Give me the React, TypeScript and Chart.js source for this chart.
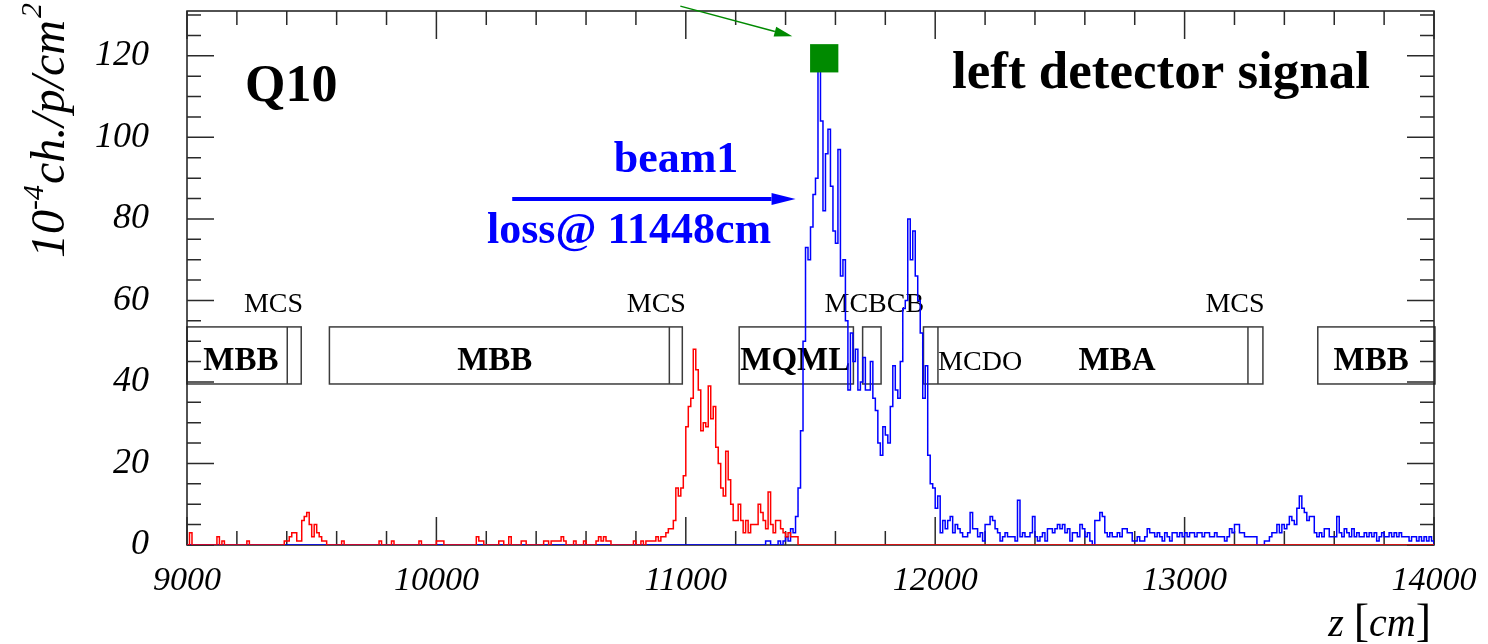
import React, { useEffect, useRef } from 'react';
import { Chart, registerables } from 'chart.js';

Chart.register(...registerables);

// ---------------- data ----------------
const X_MIN = 9000;
const X_MAX = 14000;
const Y_MIN = 0;
const Y_MAX = 131;
const BIN_CM = 10;

const xTickLabels = [9000, 10000, 11000, 12000, 13000, 14000];
const yTickLabels = [0, 20, 40, 60, 80, 100, 120];

const lossPositionCm = 11448;

// red histogram (upstream), 10 cm bins starting at 9000 cm
const redStartCm = 9000;
const redValues = [
  0, 3, 0, 0, 0, 0, 0, 0, 0, 0,
  0, 0, 2, 0, 1, 0, 0, 0, 0, 0,
  0, 0, 0, 0, 1, 0, 0, 0, 0, 0,
  0, 0, 0, 0, 0, 0, 0, 0, 0, 1,
  1, 2, 3, 3, 1, 1, 6, 7, 8, 5,
  2, 5, 3, 2, 1, 1, 0, 0, 0, 0,
  0, 0, 1, 0, 0, 0, 0, 0, 0, 0,
  0, 0, 0, 0, 0, 0, 0, 1, 0, 0,
  0, 0, 1, 0, 0, 0, 0, 0, 0, 0,
  0, 0, 0, 1, 0, 0, 0, 0, 0, 0,
  1, 1, 1, 0, 0, 0, 0, 0, 0, 0,
  0, 0, 0, 0, 0, 0, 2, 1, 1, 0,
  0, 0, 0, 0, 0, 1, 1, 0, 0, 2,
  0, 0, 0, 0, 1, 1, 0, 0, 0, 0,
  0, 0, 0, 1, 1, 0, 1, 1, 1, 1,
  2, 1, 0, 0, 0, 1, 0, 0, 0, 1,
  0, 0, 0, 0, 1, 2, 1, 2, 1, 1,
  0, 0, 0, 0, 0, 0, 0, 0, 0, 1,
  0, 0, 1, 0, 1, 1, 1, 1, 2, 1,
  2, 2, 3, 4, 4, 6, 14, 12, 14, 17,
  29, 34, 36, 48, 43, 38, 28, 30, 29, 39,
  31, 34, 24, 20, 14, 12, 23, 16, 10, 6,
  6, 10, 6, 3, 6, 3, 5, 5, 5, 10,
  8, 6, 4, 13, 5, 3, 6, 6, 4, 3,
  2, 3, 2, 2, 2,
];

// blue histogram (loss signal), 10 cm bins starting at 11320 cm
const blueStartCm = 11320;
const blueValues = [
  1, 1, 0, 0, 0, 1, 0, 1,
  2, 1, 4, 3, 7, 14, 28, 50, 73, 70,
  78, 86, 90, 117, 104, 82, 96, 102, 88, 77,
  74, 97, 66, 70, 55, 38, 52, 45, 48, 38,
  40, 46, 38, 38, 45, 36, 33, 25, 22, 29,
  27, 25, 34, 44, 38, 36, 45, 58, 60, 80,
  70, 77, 66, 60, 52, 36, 44, 22, 15, 14,
  9, 12, 3, 6, 4, 6, 7, 3, 5, 4,
  3, 2, 2, 3, 8, 4, 4, 2, 3, 1,
  5, 5, 7, 6, 4, 3, 1, 2, 3, 2,
  2, 2, 1, 11, 2, 3, 2, 2, 3, 7,
  2, 1, 2, 3, 1, 4, 4, 3, 4, 5,
  4, 5, 3, 4, 1, 3, 3, 2, 5, 4,
  2, 3, 1, 0, 6, 6, 8, 7, 3, 2,
  3, 2, 2, 3, 2, 4, 4, 3, 3, 1,
  1, 2, 1, 1, 2, 4, 3, 3, 2, 3,
  2, 1, 3, 2, 1, 3, 3, 2, 3, 2,
  3, 2, 3, 3, 2, 3, 3, 2, 3, 3,
  2, 2, 3, 2, 2, 2, 1, 2, 4, 3,
  5, 5, 3, 3, 2, 2, 2, 2, 2, 0,
  0, 0, 1, 1, 2, 3, 3, 5, 3, 5,
  4, 5, 7, 6, 5, 9, 12, 9, 8, 6,
  7, 7, 3, 2, 3, 2, 4, 4, 2, 2,
  2, 7, 3, 2, 4, 3, 2, 4, 2, 3,
  2, 2, 3, 2, 3, 2, 3, 1, 2, 3,
  2, 2, 3, 2, 3, 2, 3, 2, 2, 2,
  1, 2, 2, 1, 2, 1, 2, 1, 2, 1,
];

// green marker (maximum of the loss signal)
const markerX = [11555];
const markerY = [119.4];

// magnet layout (cm) drawn as boxes between two heights
const magnetBoxStart = [9000, 9571, 11214, 11709, 11953, 13534];
const magnetBoxEnd = [9458, 10986, 11672, 11783, 13314, 14004];
const magnetDividers = [9402, 10934, 12011, 13254];
const magnetBoxLow = 39.5;
const magnetBoxHigh = 53.5;

const boldMagnetNames = ['MBB', 'MBB', 'MQML', 'MBA', 'MBB'];
const boldMagnetPos = [9216, 10234, 11439, 12729, 13748];
const boldMagnetY = 43.0;

const plainInBoxNames = ['MCDO'];
const plainInBoxPos = [12180];

const correctorNames = ['MCS', 'MCS', 'MCBCB', 'MCS'];
const correctorPos = [9347, 10882, 11756, 13202];
const correctorY = 57.1;

// arrows (data coordinates)
const beamArrowFrom = [10304, 84.9];
const beamArrowTo = [11440, 84.9];
const markerArrowFrom = [10978, 132.2];
const markerArrowTo = [11427, 124.8];

// ---------------- helpers ----------------
const SERIF = '"Liberation Serif", "Times New Roman", Times, serif';

type Pt = { x: number; y: number };

function histogramPoints(start: number, values: number[]): Pt[] {
  const pts: Pt[] = [];
  if (start > X_MIN) pts.push({ x: X_MIN, y: 0 });
  values.forEach((v, i) => pts.push({ x: start + i * BIN_CM, y: v }));
  const end = start + values.length * BIN_CM;
  pts.push({ x: end, y: 0 });
  if (end < X_MAX) pts.push({ x: X_MAX, y: 0 });
  return pts;
}

function drawText(
  ctx: CanvasRenderingContext2D,
  str: string,
  x: number,
  y: number,
  font: string,
  color: string,
  align: CanvasTextAlign = 'left',
  sx = 1
) {
  ctx.save();
  ctx.font = font;
  ctx.fillStyle = color;
  ctx.textAlign = align;
  ctx.textBaseline = 'alphabetic';
  ctx.translate(x, y);
  ctx.scale(sx, 1);
  ctx.fillText(str, 0, 0);
  ctx.restore();
}

function drawArrow(
  ctx: CanvasRenderingContext2D,
  x1: number,
  y1: number,
  x2: number,
  y2: number,
  color: string,
  lw: number,
  headLen: number,
  headHalf: number
) {
  const ang = Math.atan2(y2 - y1, x2 - x1);
  const bx = x2 - headLen * Math.cos(ang);
  const by = y2 - headLen * Math.sin(ang);
  ctx.save();
  ctx.strokeStyle = color;
  ctx.fillStyle = color;
  ctx.lineWidth = lw;
  ctx.beginPath();
  ctx.moveTo(x1, y1);
  ctx.lineTo(bx, by);
  ctx.stroke();
  ctx.beginPath();
  ctx.moveTo(x2, y2);
  ctx.lineTo(bx + headHalf * Math.sin(ang), by - headHalf * Math.cos(ang));
  ctx.lineTo(bx - headHalf * Math.sin(ang), by + headHalf * Math.cos(ang));
  ctx.closePath();
  ctx.fill();
  ctx.restore();
}

const overlayPlugin = {
  id: 'rootOverlay',
  beforeDatasetsDraw(chart: any) {
    const ctx: CanvasRenderingContext2D = chart.ctx;
    const xs = chart.scales.x;
    const ys = chart.scales.y;
    const { left, right, top, bottom } = chart.chartArea;

    // magnet boxes
    ctx.save();
    ctx.strokeStyle = '#3c3c3c';
    ctx.lineWidth = 1.5;
    const yT = ys.getPixelForValue(magnetBoxHigh);
    const yB = ys.getPixelForValue(magnetBoxLow);
    magnetBoxStart.forEach((s, i) => {
      const x1 = xs.getPixelForValue(s);
      const x2 = xs.getPixelForValue(magnetBoxEnd[i]);
      ctx.strokeRect(x1, yT, x2 - x1, yB - yT);
    });
    magnetDividers.forEach((d) => {
      const x = xs.getPixelForValue(d);
      ctx.beginPath();
      ctx.moveTo(x, yT);
      ctx.lineTo(x, yB);
      ctx.stroke();
    });
    ctx.restore();

    boldMagnetNames.forEach((n, i) =>
      drawText(ctx, n, xs.getPixelForValue(boldMagnetPos[i]), ys.getPixelForValue(boldMagnetY), `bold 33px ${SERIF}`, '#000', 'center')
    );
    plainInBoxNames.forEach((n, i) =>
      drawText(ctx, n, xs.getPixelForValue(plainInBoxPos[i]), ys.getPixelForValue(boldMagnetY), `28px ${SERIF}`, '#000', 'center')
    );
    correctorNames.forEach((n, i) =>
      drawText(ctx, n, xs.getPixelForValue(correctorPos[i]), ys.getPixelForValue(correctorY), `28px ${SERIF}`, '#000', 'center')
    );

    // frame
    ctx.save();
    ctx.strokeStyle = '#1a1a1a';
    ctx.lineWidth = 1.5;
    ctx.strokeRect(left, top, right - left, bottom - top);

    // ticks (inside, on all four sides)
    ctx.strokeStyle = '#2a2a2a';
    ctx.lineWidth = 1.5;
    ctx.beginPath();
    for (let v = X_MIN; v <= X_MAX; v += 200) {
      const x = xs.getPixelForValue(v);
      const len = v % 1000 === 0 ? 28 : 14;
      ctx.moveTo(x, bottom);
      ctx.lineTo(x, bottom - len);
      ctx.moveTo(x, top);
      ctx.lineTo(x, top + len);
    }
    for (let v = Y_MIN; v <= Y_MAX; v += 5) {
      const y = ys.getPixelForValue(v);
      const len = v % 20 === 0 ? 27 : 14;
      ctx.moveTo(left, y);
      ctx.lineTo(left + len, y);
      ctx.moveTo(right, y);
      ctx.lineTo(right - len, y);
    }
    ctx.stroke();
    ctx.restore();
  },
  afterDatasetsDraw(chart: any) {
    const ctx: CanvasRenderingContext2D = chart.ctx;
    const xs = chart.scales.x;
    const ys = chart.scales.y;

    // headline texts
    drawText(ctx, 'Q10', 245, 101, `bold 52px ${SERIF}`, '#000');
    drawText(ctx, 'left detector signal', 952, 88, `bold 53px ${SERIF}`, '#000');
    drawText(ctx, 'beam1', 676, 172, `bold 44px ${SERIF}`, '#0000ff', 'center');
    drawText(ctx, `loss@ ${lossPositionCm}cm`, 487, 243, `bold 44px ${SERIF}`, '#0000ff');

    // arrows
    drawArrow(
      ctx,
      xs.getPixelForValue(beamArrowFrom[0]),
      ys.getPixelForValue(beamArrowFrom[1]),
      xs.getPixelForValue(beamArrowTo[0]),
      ys.getPixelForValue(beamArrowTo[1]),
      '#0000ff',
      4,
      24,
      6
    );
    drawArrow(
      ctx,
      xs.getPixelForValue(markerArrowFrom[0]),
      ys.getPixelForValue(markerArrowFrom[1]),
      xs.getPixelForValue(markerArrowTo[0]),
      ys.getPixelForValue(markerArrowTo[1]),
      '#008a00',
      1.5,
      18,
      5
    );

    // y axis title (rotated)
    ctx.save();
    ctx.translate(64, 258);
    ctx.rotate(-Math.PI / 2);
    ctx.fillStyle = '#000';
    ctx.textBaseline = 'alphabetic';
    ctx.textAlign = 'left';
    let px = 0;
    ctx.font = `italic 48px ${SERIF}`;
    ctx.fillText('10', px, 0);
    px += ctx.measureText('10').width;
    ctx.font = `italic 30px ${SERIF}`;
    ctx.fillText('-4', px, -21);
    px += ctx.measureText('-4').width + 1;
    ctx.font = `italic 48px ${SERIF}`;
    ctx.fillText('ch./p/cm', px, 0);
    px += ctx.measureText('ch./p/cm').width + 2;
    ctx.font = `italic 30px ${SERIF}`;
    ctx.fillText('2', px, -23);
    ctx.restore();

    // x axis title: z [cm], right aligned at 1430
    ctx.save();
    ctx.fillStyle = '#000';
    ctx.textBaseline = 'alphabetic';
    ctx.textAlign = 'left';
    const parts: [string, string][] = [
      ['z', `italic 40px ${SERIF}`],
      [' ', `40px ${SERIF}`],
      ['[', `46px ${SERIF}`],
      ['cm', `italic 40px ${SERIF}`],
      [']', `46px ${SERIF}`],
    ];
    let total = 0;
    parts.forEach(([s, f]) => {
      ctx.font = f;
      total += ctx.measureText(s).width;
    });
    let cx = 1431 - total;
    parts.forEach(([s, f]) => {
      ctx.font = f;
      ctx.fillText(s, cx, 636);
      cx += ctx.measureText(s).width;
    });
    ctx.restore();
  },
};

export default function App() {
  const canvasRef = useRef<HTMLCanvasElement | null>(null);

  useEffect(() => {
    if (!canvasRef.current) return;
    const chart = new Chart(canvasRef.current, {
      type: 'line',
      data: {
        datasets: [
          {
            type: 'scatter',
            label: 'maximum',
            data: markerX.map((x, i) => ({ x, y: markerY[i] })),
            pointStyle: 'rect',
            pointRadius: 20,
            pointHoverRadius: 20,
            backgroundColor: '#008a00',
            borderWidth: 0,
            order: 0,
          } as any,
          {
            label: 'upstream',
            data: histogramPoints(redStartCm, redValues),
            borderColor: '#ff0000',
            borderWidth: 1.5,
            stepped: true,
            pointRadius: 0,
            fill: false,
            order: 1,
          },
          {
            label: 'loss signal',
            data: histogramPoints(blueStartCm, blueValues),
            borderColor: '#0000ff',
            borderWidth: 1.5,
            stepped: true,
            pointRadius: 0,
            fill: false,
            order: 2,
          },
        ],
      },
      options: {
        animation: false,
        responsive: false,
        devicePixelRatio: 1,
        events: [],
        layout: { autoPadding: false, padding: { left: 0, right: 54, top: 11, bottom: 0 } },
        plugins: { legend: { display: false }, tooltip: { enabled: false }, title: { display: false } },
        scales: {
          x: {
            type: 'linear',
            min: X_MIN,
            max: X_MAX,
            grid: { display: false },
            border: { display: false },
            afterBuildTicks: (s: any) => {
              s.ticks = xTickLabels.map((v) => ({ value: v }));
            },
            afterFit: (s: any) => {
              s.height = 99;
              s.paddingLeft = 0;
              s.paddingRight = 0;
            },
            ticks: {
              callback: (v: any) => String(v),
              font: { family: SERIF, size: 34, style: 'italic' },
              color: '#000',
              padding: 8,
              maxRotation: 0,
              minRotation: 0,
              autoSkip: false,
            },
          },
          y: {
            type: 'linear',
            min: Y_MIN,
            max: Y_MAX,
            grid: { display: false },
            border: { display: false },
            afterBuildTicks: (s: any) => {
              s.ticks = yTickLabels.map((v) => ({ value: v }));
            },
            afterFit: (s: any) => {
              s.width = 187;
              s.paddingTop = 0;
              s.paddingBottom = 0;
            },
            ticks: {
              callback: (v: any) => String(v),
              font: { family: SERIF, size: 36, style: 'italic', lineHeight: 0.5 },
              color: '#000',
              padding: 30,
              autoSkip: false,
            },
          },
        },
      },
      plugins: [overlayPlugin],
    });
    return () => chart.destroy();
  }, []);

  return (
    <div style={{ position: 'fixed', left: 0, top: 0, width: 1488, height: 644, background: '#fff' }}>
      <canvas ref={canvasRef} width={1488} height={644} style={{ display: 'block', width: 1488, height: 644 }} />
    </div>
  );
}
